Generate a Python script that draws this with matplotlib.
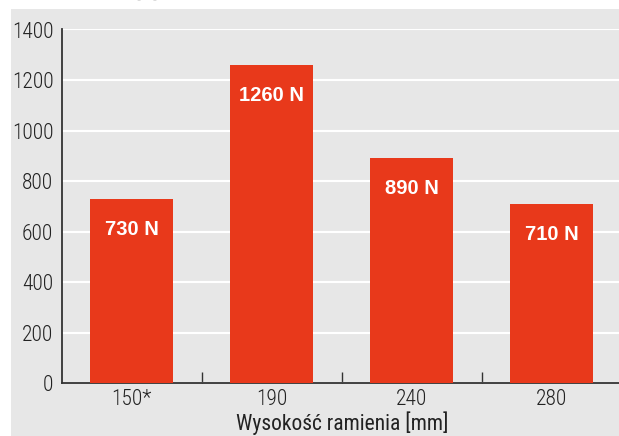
import matplotlib
matplotlib.use('Agg')
import matplotlib.pyplot as plt
from matplotlib.patches import Rectangle

plt.rcParams['font.family'] = ['Roboto Condensed', 'Archivo Narrow', 'DejaVu Sans']
plt.rcParams['font.weight'] = 'light'

# Data
categories = ['150*', '190', '240', '280']
force_values = [730, 1260, 890, 710]
bar_labels = ['730 N', '1260 N', '890 N', '710 N']
y_ticks = [0, 200, 400, 600, 800, 1000, 1200, 1400]

BAR_COLOR = '#E8391B'
PANEL_COLOR = '#E7E7E7'
AXIS_COLOR = '#333333'
TEXT_COLOR = '#222222'

fig = plt.figure(figsize=(6.19, 4.36), dpi=100)
fig.patch.set_facecolor('white')

# grey panel behind the chart
panel = Rectangle((11 / 619, 0), 1, (436 - 9) / 436,
                  transform=fig.transFigure, facecolor=PANEL_COLOR,
                  edgecolor='none', zorder=-10)
fig.add_artist(panel)

ax = fig.add_axes([61.7 / 619, (436 - 383.3) / 436, 560 / 619, 353.8 / 436])
ax.set_facecolor('none')

x = range(len(categories))
bars = ax.bar(x, force_values, width=0.59, color=BAR_COLOR, zorder=3)

for bar, lab in zip(bars, bar_labels):
    ax.annotate(lab, (bar.get_x() + bar.get_width() / 2, bar.get_height()),
                xytext=(0, -22), textcoords='offset points',
                ha='center', va='center', color='white', fontsize=14.5,
                fontweight='bold', family=['Liberation Sans', 'DejaVu Sans'],
                zorder=4)

ax.set_xlim(-0.5, 3.5)
ax.set_ylim(0, 1400)
ax.set_yticks(y_ticks)
ax.set_xticks(list(x))
ax.set_xticklabels(categories)
ax.set_xticks([0.5, 1.5, 2.5], minor=True)

ax.tick_params(axis='y', length=0, pad=6, labelsize=15.5, labelcolor=TEXT_COLOR)
ax.tick_params(axis='x', which='major', length=0, pad=4, labelsize=15.5,
               labelcolor=TEXT_COLOR)
ax.tick_params(axis='x', which='minor', direction='in', length=8, width=1,
               color=AXIS_COLOR)

ax.yaxis.grid(True, color='white', linewidth=1.5, zorder=1)
ax.set_axisbelow(True)

for side in ['top', 'right']:
    ax.spines[side].set_visible(False)
for side in ['left', 'bottom']:
    ax.spines[side].set_color(AXIS_COLOR)
    ax.spines[side].set_linewidth(1.3)

ax.set_xlabel('Wysokość ramienia [mm]', fontsize=15.5, color=TEXT_COLOR,
              labelpad=1)

# unit label, mostly cut off by the top edge
fig.text(135 / 619, (436 + 2) / 436, '[N]', ha='left', va='baseline',
         fontsize=15.5, color=TEXT_COLOR)

fig.savefig('out.png', dpi=100, facecolor='white')
